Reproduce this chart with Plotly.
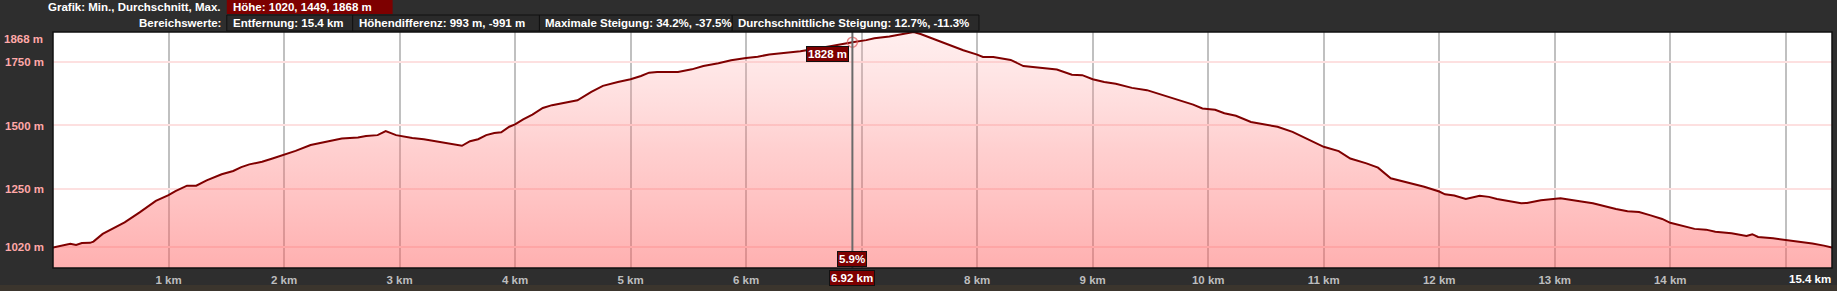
import plotly.graph_objects as go

# ---------------- data ----------------
dist_km = [0.00, 0.08, 0.15, 0.20, 0.25, 0.32, 0.35, 0.43, 0.54, 0.62, 0.75, 0.89, 1.00, 1.06, 1.16, 1.24,
           1.33, 1.46, 1.56, 1.63, 1.70, 1.81, 1.90, 2.00, 2.10, 2.23, 2.37, 2.50, 2.64, 2.71, 2.81, 2.88,
           2.97, 3.00, 3.11, 3.21, 3.31, 3.41, 3.54, 3.61, 3.68, 3.75, 3.82, 3.88, 3.95, 4.00, 4.07, 4.15,
           4.24, 4.32, 4.42, 4.54, 4.66, 4.76, 4.89, 5.00, 5.09, 5.16, 5.23, 5.41, 5.53, 5.63, 5.76, 5.87,
           6.00, 6.10, 6.20, 6.34, 6.47, 6.74, 6.84, 6.92, 7.04, 7.11, 7.24, 7.35, 7.45, 7.51, 7.61, 7.75,
           7.88, 8.00, 8.05, 8.14, 8.19, 8.29, 8.40, 8.56, 8.69, 8.82, 8.91, 9.00, 9.10, 9.20, 9.34, 9.47,
           9.61, 9.74, 9.87, 9.95, 10.00, 10.06, 10.14, 10.24, 10.37, 10.50, 10.60, 10.73, 10.87, 11.00,
           11.13, 11.23, 11.37, 11.47, 11.58, 11.67, 11.77, 11.87, 12.00, 12.05, 12.13, 12.23, 12.35, 12.43,
           12.50, 12.60, 12.71, 12.76, 12.88, 13.05, 13.13, 13.23, 13.33, 13.43, 13.53, 13.63, 13.73, 13.83,
           13.93, 14.00, 14.09, 14.21, 14.31, 14.39, 14.53, 14.66, 14.71, 14.76, 14.89, 15.00, 15.06, 15.13,
           15.23, 15.33, 15.40]
elev_m = [1020, 1028, 1034, 1030, 1037, 1038, 1043, 1073, 1100, 1119, 1158, 1203, 1226, 1242, 1263, 1263,
          1284, 1308, 1321, 1336, 1347, 1357, 1370, 1385, 1400, 1423, 1438, 1449, 1453, 1459, 1462, 1478,
          1462, 1459, 1451, 1446, 1438, 1432, 1420, 1438, 1446, 1462, 1470, 1473, 1495, 1504, 1524, 1543,
          1569, 1580, 1589, 1599, 1632, 1656, 1671, 1682, 1695, 1708, 1711, 1711, 1721, 1734, 1745, 1757,
          1766, 1771, 1779, 1787, 1792, 1813, 1822, 1828, 1836, 1843, 1850, 1858, 1868, 1860, 1842, 1818,
          1796, 1779, 1770, 1770, 1766, 1758, 1734, 1726, 1720, 1700, 1698, 1682, 1671, 1664, 1648, 1639,
          1619, 1598, 1582, 1567, 1564, 1562, 1548, 1538, 1514, 1504, 1495, 1475, 1446, 1416,
          1399, 1370, 1351, 1334, 1292, 1282, 1273, 1259, 1240, 1229, 1224, 1211, 1223, 1219,
          1211, 1203, 1194, 1195, 1206, 1214, 1207, 1201, 1194, 1181, 1171, 1162, 1159, 1146,
          1132, 1117, 1106, 1093, 1090, 1082, 1076, 1065, 1072, 1061, 1056, 1049, 1045, 1043,
          1035, 1027, 1020]

y_tickvals = [1020, 1250, 1500, 1750]
y_top = 1868
y_bottom = 939
x_tickvals = list(range(1, 16))
x_hidden = [7, 15]           # labels covered by cursor box / end label
x_end = 15.4

cursor_km = 6.92
cursor_elev = 1828
cursor_grade = "5.9%"

header_row1_label = "Grafik: Min., Durchschnitt, Max."
header_row1_value = "Höhe: 1020, 1449, 1868 m"
header_row2_label = "Bereichswerte:"
header_row2_values = ["Entfernung: 15.4 km", "Höhendifferenz: 993 m, -991 m",
                      "Maximale Steigung: 34.2%, -37.5%", "Durchschnittliche Steigung: 12.7%, -11.3%"]

# ---------------- layout helpers ----------------
W, H = 1837, 291
ML, MR, MT, MB = 51, 5, 32, 23
PW, PH = W - ML - MR, H - MT - MB
FONT = "Liberation Sans"
DARKRED = "#7d0000"


def px(x):
    return (x - ML) / PW


def py(y):
    return (H - MB - y) / PH


fig = go.Figure()
fig.add_trace(go.Scatter(
    x=dist_km, y=elev_m, mode="lines",
    line=dict(color="#7f0000", width=2),
    fill="tozeroy",
    fillgradient=dict(type="vertical", start=y_bottom, stop=y_top,
                      colorscale=[[0, "rgba(255,90,90,0.48)"], [0.5, "rgba(255,110,110,0.33)"],
                                  [1, "rgba(255,180,180,0.22)"]]),
    hoverinfo="skip", showlegend=False))

fig.add_trace(go.Scatter(
    x=[cursor_km], y=[cursor_elev], mode="markers",
    marker=dict(symbol="circle-open", size=10, color="rgba(225,90,90,0.7)", line=dict(width=1.5)),
    hoverinfo="skip", showlegend=False))

shapes = []
# cursor line
shapes.append(dict(type="line", xref="x", yref="paper", x0=cursor_km, x1=cursor_km, y0=0, y1=1,
                   line=dict(color="#6a6a6a", width=2), layer="above"))
# plot border
shapes.append(dict(type="rect", xref="paper", yref="paper", x0=0, x1=1, y0=0, y1=1,
                   line=dict(color="#111111", width=1.5), layer="above"))
# textured strip at the bottom
shapes.append(dict(type="rect", xref="paper", yref="paper", x0=px(-5), x1=px(W + 5), y0=py(H + 5), y1=py(285),
                   fillcolor="#3b352d", line=dict(width=0), layer="below"))
# header boxes
shapes.append(dict(type="rect", xref="paper", yref="paper", x0=px(225), x1=px(391), y0=py(14), y1=py(-2),
                   fillcolor=DARKRED, line=dict(width=0), layer="above"))
box_edges = [225, 351, 538, 731, 978]
for i in range(4):
    shapes.append(dict(type="rect", xref="paper", yref="paper", x0=px(box_edges[i]), x1=px(box_edges[i + 1]),
                       y0=py(31), y1=py(15), fillcolor="#2a2a2a", line=dict(color="#111111", width=1),
                       layer="above"))

ann = []
hfont = dict(family=FONT, size=11.5, color="white")
ann.append(dict(xref="paper", yref="paper", x=px(221), y=py(7), xanchor="right", yanchor="middle",
                text="<b>" + header_row1_label + "</b>", showarrow=False, font=hfont))
ann.append(dict(xref="paper", yref="paper", x=px(229), y=py(7), xanchor="left", yanchor="middle",
                text="<b>" + header_row1_value + "</b>", showarrow=False, font=hfont))
ann.append(dict(xref="paper", yref="paper", x=px(221), y=py(23), xanchor="right", yanchor="middle",
                text="<b>" + header_row2_label + "</b>", showarrow=False, font=hfont))
for i, t in enumerate(header_row2_values):
    ann.append(dict(xref="paper", yref="paper", x=px(box_edges[i] + 4), y=py(23), xanchor="left",
                    yanchor="middle", text="<b>" + t + "</b>", showarrow=False, font=hfont))

# y label for maximum (pushed inside)
ann.append(dict(xref="paper", yref="y", x=0, y=y_top, xanchor="right", yanchor="middle", xshift=-8, yshift=-7,
                text=f"<b>{y_top} m</b>", showarrow=False, font=dict(family=FONT, size=11.5, color="#ffa8a8")))
# end distance label
ann.append(dict(xref="x", yref="paper", x=x_end, y=0, xanchor="right", yanchor="top", yshift=-3, xshift=1,
                text=f"<b>{x_end} km</b>", showarrow=False, font=dict(family=FONT, size=11.5, color="white")))
# cursor labels
cfont = dict(family=FONT, size=11.5, color="white")
ann.append(dict(xref="x", yref="y", x=cursor_km, y=cursor_elev, xanchor="right", yanchor="middle",
                xshift=-3, yshift=-12, text=f"<b>{cursor_elev} m</b>", showarrow=False, font=cfont,
                bgcolor=DARKRED, bordercolor="#111111", borderwidth=1, borderpad=1))
ann.append(dict(xref="x", yref="paper", x=cursor_km, y=0, xanchor="center", yanchor="bottom",
                yshift=1, text=f"<b>{cursor_grade}</b>", showarrow=False, font=cfont,
                bgcolor=DARKRED, bordercolor="#111111", borderwidth=1, borderpad=1))
ann.append(dict(xref="x", yref="paper", x=cursor_km, y=0, xanchor="center", yanchor="top",
                yshift=-2, text=f"<b>{cursor_km} km</b>", showarrow=False, font=cfont,
                bgcolor=DARKRED, bordercolor="#111111", borderwidth=1, borderpad=1))

fig.update_layout(
    width=W, height=H, margin=dict(l=ML, r=MR, t=MT, b=MB, pad=0),
    paper_bgcolor="#2e2e2e", plot_bgcolor="white",
    shapes=shapes, annotations=ann, showlegend=False,
    xaxis=dict(range=[0, x_end], tickvals=x_tickvals,
               ticktext=["" if v in x_hidden else f"<b>{v} km</b>" for v in x_tickvals],
               showgrid=True, gridcolor="#c0c0c0", gridwidth=2,
               zeroline=False, showline=False, ticks="",
               tickfont=dict(family=FONT, size=11.5, color="#bdbdbd"), ticklabelstandoff=3,
               fixedrange=True),
    yaxis=dict(range=[y_bottom, y_top], tickvals=y_tickvals,
               ticktext=[f"<b>{v} m</b>" for v in y_tickvals],
               showgrid=True, gridcolor="#fde0e0", gridwidth=2,
               zeroline=False, showline=False, ticks="",
               tickfont=dict(family=FONT, size=11.5, color="#ffa8a8"), ticklabelstandoff=8,
               fixedrange=True),
)

fig.write_html("out.html")
